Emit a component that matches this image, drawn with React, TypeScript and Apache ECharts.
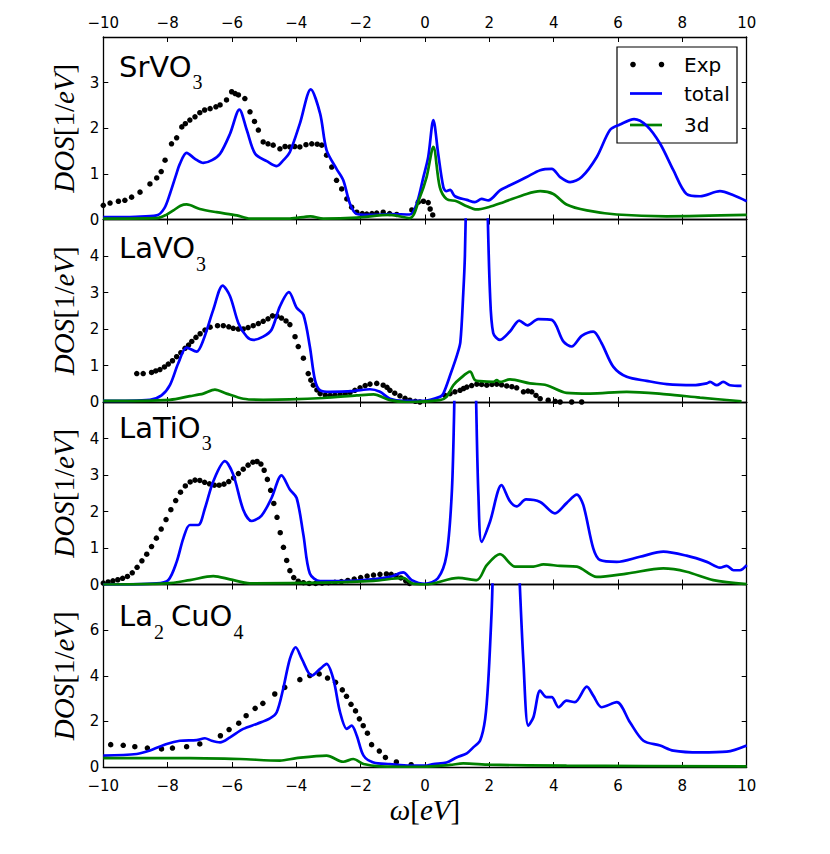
import React, { useEffect, useRef } from 'react';
import * as echarts from 'echarts';

type Pt = [number, number];

// ---------- data ----------
const xTickValues = [-10, -8, -6, -4, -2, 0, 2, 4, 6, 8, 10];
const seriesNames = ['Exp', 'total', '3d'];
const panelTitles = ['{m|SrVO}{s|3}', '{m|LaVO}{s|3}', '{m|LaTiO}{s|3}', '{m|La}{s2|2}{m|CuO}{s|4}'];
const yMaxes = [4, 5, 5, 8];
const yIntervals = [1, 1, 1, 2];

const srvo3Exp: Pt[] = [
  [-10, 0.31], [-9.79, 0.36], [-9.53, 0.4], [-9.33, 0.42], [-9.12, 0.49], [-8.86, 0.6], [-8.55, 0.78],
  [-8.34, 0.91], [-8.2, 1.05], [-8.08, 1.3], [-7.88, 1.66], [-7.72, 1.79], [-7.56, 2.03], [-7.45, 2.1],
  [-7.31, 2.18], [-7.15, 2.25], [-7.0, 2.34], [-6.85, 2.4], [-6.68, 2.43], [-6.5, 2.47], [-6.37, 2.51],
  [-6.17, 2.62], [-6.01, 2.8], [-5.9, 2.76], [-5.8, 2.73], [-5.6, 2.65], [-5.44, 2.36], [-5.3, 2.15],
  [-5.18, 1.96], [-5.03, 1.7], [-4.88, 1.66], [-4.72, 1.63], [-4.51, 1.55], [-4.35, 1.6], [-4.2, 1.59],
  [-4.05, 1.6], [-3.89, 1.59], [-3.7, 1.64], [-3.52, 1.66], [-3.35, 1.65], [-3.21, 1.63], [-3.06, 1.41],
  [-2.9, 1.15], [-2.75, 0.86], [-2.59, 0.67], [-2.43, 0.45], [-2.28, 0.27], [-2.12, 0.16], [-1.95, 0.13],
  [-1.81, 0.12], [-1.65, 0.13], [-1.5, 0.14], [-1.3, 0.16], [-1.1, 0.13], [-0.88, 0.11], [-0.41, 0.21],
  [-0.21, 0.38], [-0.05, 0.4], [0.1, 0.37], [0.16, 0.23], [0.24, 0.1],
];
const srvo3Total: Pt[] = [
  [-10, 0.05], [-9, 0.06], [-8.34, 0.09], [-8.1, 0.25], [-7.93, 0.56], [-7.75, 0.95], [-7.62, 1.22],
  [-7.41, 1.46], [-7.15, 1.33], [-6.89, 1.24], [-6.62, 1.3], [-6.37, 1.44], [-6.06, 1.88], [-5.77, 2.41],
  [-5.54, 1.96], [-5.28, 1.44], [-4.92, 1.28], [-4.61, 1.17], [-4.4, 1.3], [-4.2, 1.48], [-3.89, 2.1],
  [-3.55, 2.85], [-3.26, 2.32], [-3.06, 1.52], [-2.75, 1.11], [-2.54, 0.86], [-2.33, 0.34], [-2.12, 0.12],
  [-1.6, 0.1], [-1.09, 0.12], [-0.47, 0.11], [-0.26, 0.34], [-0.05, 0.93], [0.1, 1.37], [0.26, 2.18],
  [0.41, 1.44], [0.57, 0.71], [0.66, 0.62], [0.78, 0.65], [0.93, 0.51], [1.3, 0.43], [1.55, 0.38],
  [1.76, 0.45], [1.97, 0.42], [2.33, 0.64], [2.64, 0.75], [3.16, 0.93], [3.58, 1.08], [3.94, 1.11],
  [4.2, 0.93], [4.51, 0.82], [4.87, 0.93], [5.34, 1.37], [5.75, 1.96], [6.06, 2.08], [6.5, 2.2],
  [6.9, 2.05], [7.31, 1.66], [7.72, 1.08], [8.13, 0.56], [8.55, 0.51], [9.17, 0.62], [9.59, 0.53], [10, 0.4],
];
const srvo3D: Pt[] = [
  [-10, 0.02], [-8.34, 0.03], [-8.05, 0.1], [-7.82, 0.2], [-7.6, 0.3], [-7.41, 0.33], [-7.0, 0.23],
  [-6.48, 0.16], [-5.85, 0.09], [-5.44, 0.02], [-4.2, 0.02], [-3.56, 0.07], [-3.16, 0.02], [-2.12, 0.04],
  [-1.09, 0.1], [-0.47, 0.03], [-0.16, 0.49], [0.05, 0.93], [0.26, 1.59], [0.46, 0.71], [0.67, 0.45],
  [0.98, 0.4], [1.3, 0.29], [1.6, 0.22], [1.97, 0.27], [2.44, 0.38], [3.16, 0.56], [3.58, 0.62],
  [3.99, 0.56], [4.4, 0.33], [5.03, 0.2], [5.96, 0.11], [7.51, 0.07], [10, 0.1],
];

const lavo3Exp: Pt[] = [
  [-8.96, 0.78], [-8.76, 0.78], [-8.5, 0.81], [-8.37, 0.85], [-8.24, 0.89], [-8.1, 0.96], [-7.98, 1.04],
  [-7.85, 1.13], [-7.72, 1.24], [-7.59, 1.35], [-7.46, 1.47], [-7.35, 1.56], [-7.25, 1.66], [-7.12, 1.77],
  [-6.99, 1.87], [-6.84, 1.97], [-6.68, 2.05], [-6.45, 2.09], [-6.27, 2.09], [-6.1, 2.06], [-5.96, 2.02],
  [-5.8, 2.0], [-5.65, 2.0], [-5.5, 2.04], [-5.34, 2.09], [-5.18, 2.15], [-5.03, 2.21], [-4.88, 2.28],
  [-4.74, 2.36], [-4.6, 2.35], [-4.46, 2.3], [-4.32, 2.22], [-4.2, 2.12], [-4.04, 1.79], [-3.94, 1.52],
  [-3.78, 1.2], [-3.63, 0.78], [-3.55, 0.6], [-3.47, 0.46], [-3.36, 0.33], [-3.26, 0.23], [-3.1, 0.19],
  [-2.95, 0.18], [-2.8, 0.19], [-2.64, 0.2], [-2.48, 0.22], [-2.33, 0.26], [-2.18, 0.32], [-2.02, 0.39],
  [-1.86, 0.45], [-1.71, 0.49], [-1.5, 0.51], [-1.3, 0.46], [-1.18, 0.4], [-1.09, 0.32], [-0.94, 0.24],
  [-0.78, 0.17], [-0.62, 0.1], [-0.47, 0.05], [-0.3, 0.02], [-0.16, 0], [0.62, 0.18], [0.78, 0.23],
  [0.93, 0.28], [1.09, 0.32], [1.2, 0.37], [1.3, 0.41], [1.45, 0.45], [1.61, 0.49], [1.76, 0.48],
  [1.92, 0.46], [2.08, 0.48], [2.23, 0.49], [2.38, 0.47], [2.54, 0.44], [2.7, 0.42], [2.85, 0.39],
  [3.06, 0.28], [3.2, 0.3], [3.32, 0.28], [3.45, 0.18], [3.58, 0.09], [3.83, 0.05], [4.05, 0.02],
  [4.2, 0], [4.56, 0], [4.87, 0],
];
const lavo3Total: Pt[] = [
  [-10, 0.03], [-8.55, 0.06], [-8.19, 0.18], [-7.93, 0.46], [-7.67, 1.06], [-7.41, 1.49], [-7.1, 1.38],
  [-6.89, 1.7], [-6.58, 2.53], [-6.29, 3.19], [-6.06, 2.9], [-5.8, 2.16], [-5.54, 1.79], [-5.34, 1.7],
  [-5.03, 1.79], [-4.77, 1.98], [-4.51, 2.62], [-4.23, 3.01], [-3.99, 2.58], [-3.78, 2.39], [-3.58, 1.52],
  [-3.42, 0.6], [-3.26, 0.32], [-2.95, 0.28], [-2.23, 0.3], [-1.71, 0.35], [-1.4, 0.28], [-1.09, 0.09],
  [-0.68, 0.03], [-0.05, 0.03], [0.46, 0.14], [0.57, 0.23], [0.8, 0.78], [1.0, 1.3], [1.1, 1.65],
  [1.19, 2.99], [1.24, 4.0], [1.3, 6.5], [1.45, 11], [1.65, 12], [1.85, 9], [1.94, 5.5], [2.02, 2.99],
  [2.12, 1.89], [2.33, 1.7], [2.64, 1.93], [2.93, 2.23], [3.19, 2.1], [3.52, 2.27], [3.94, 2.25],
  [4.3, 1.66], [4.56, 1.52], [4.87, 1.81], [5.23, 1.93], [5.49, 1.61], [5.85, 0.97], [6.27, 0.69],
  [6.89, 0.58], [7.51, 0.49], [8.34, 0.46], [8.76, 0.51], [8.86, 0.55], [9.07, 0.46], [9.27, 0.55],
  [9.48, 0.46], [9.84, 0.44],
];
const lavo3D: Pt[] = [
  [-10, 0.03], [-7.93, 0.06], [-7.31, 0.16], [-6.89, 0.23], [-6.53, 0.34], [-6.17, 0.23], [-5.65, 0.09],
  [-5.03, 0.06], [-4.2, 0.07], [-3.16, 0.11], [-2.12, 0.18], [-1.6, 0.21], [-1.09, 0.05], [-0.57, 0],
  [0.46, 0.05], [0.67, 0.14], [0.88, 0.46], [1.09, 0.64], [1.4, 0.83], [1.55, 0.6], [1.71, 0.57],
  [2.12, 0.55], [2.23, 0.6], [2.33, 0.55], [2.64, 0.62], [3.26, 0.51], [3.78, 0.46], [4.4, 0.25],
  [5.13, 0.23], [6.27, 0.28], [7.51, 0.21], [8.55, 0.12], [9.84, 0.02],
];

const latio3Exp: Pt[] = [
  [-10, 0.04], [-9.85, 0.07], [-9.7, 0.1], [-9.55, 0.13], [-9.4, 0.17], [-9.25, 0.22], [-9.1, 0.32],
  [-8.95, 0.47], [-8.8, 0.65], [-8.65, 0.83], [-8.5, 1.04], [-8.35, 1.27], [-8.2, 1.52], [-8.05, 1.78],
  [-7.9, 2.05], [-7.75, 2.3], [-7.6, 2.53], [-7.45, 2.7], [-7.3, 2.81], [-7.15, 2.86], [-7.0, 2.85],
  [-6.85, 2.8], [-6.7, 2.76], [-6.55, 2.72], [-6.4, 2.72], [-6.25, 2.75], [-6.1, 2.82], [-5.95, 2.92],
  [-5.8, 3.04], [-5.65, 3.16], [-5.5, 3.27], [-5.35, 3.35], [-5.22, 3.37], [-5.1, 3.3], [-5.0, 3.13],
  [-4.9, 2.88], [-4.8, 2.58], [-4.7, 2.22], [-4.6, 1.84], [-4.5, 1.42], [-4.4, 1.02], [-4.3, 0.66],
  [-4.2, 0.38], [-4.08, 0.19], [-3.94, 0.09], [-3.78, 0.05], [-3.6, 0.03], [-3.4, 0.03], [-3.2, 0.04],
  [-3.0, 0.05], [-2.8, 0.06], [-2.6, 0.08], [-2.4, 0.11], [-2.2, 0.15], [-2.0, 0.19], [-1.8, 0.23],
  [-1.6, 0.26], [-1.4, 0.28], [-1.2, 0.29], [-1.05, 0.28], [-0.9, 0.24], [-0.75, 0.18], [-0.6, 0.1],
  [-0.48, 0.03],
];
const latio3Total: Pt[] = [
  [-10, 0], [-8.34, 0.03], [-7.98, 0.12], [-7.72, 0.62], [-7.51, 1.27], [-7.31, 1.63], [-7.05, 1.63],
  [-6.84, 2.09], [-6.58, 2.83], [-6.22, 3.38], [-5.96, 3.01], [-5.65, 2.05], [-5.39, 1.74], [-5.08, 1.89],
  [-4.77, 2.37], [-4.46, 2.99], [-4.2, 2.6], [-3.99, 2.37], [-3.78, 1.36], [-3.58, 0.3], [-3.26, 0.09],
  [-2.12, 0.11], [-1.09, 0.21], [-0.68, 0.33], [-0.41, 0.12], [0, 0.02], [0.4, 0.17], [0.67, 0.81],
  [0.83, 2.46], [0.9, 4.5], [1.0, 9], [1.25, 12], [1.5, 9], [1.59, 5.0], [1.66, 2.46], [1.76, 1.17],
  [2.02, 1.72], [2.38, 2.72], [2.64, 2.28], [2.85, 2.14], [3.14, 2.33], [3.58, 2.26], [4.04, 1.95],
  [4.4, 2.23], [4.72, 2.46], [4.92, 2.18], [5.23, 0.99], [5.44, 0.67], [5.96, 0.62], [6.68, 0.76],
  [7.41, 0.9], [8.13, 0.79], [8.76, 0.62], [9.17, 0.46], [9.38, 0.51], [9.59, 0.39], [9.79, 0.39], [10, 0.53],
];
const latio3D: Pt[] = [
  [-10, 0], [-8.03, 0.03], [-7.31, 0.12], [-6.58, 0.23], [-6.06, 0.14], [-5.44, 0.03], [-3.16, 0.05],
  [-1.6, 0.1], [-0.68, 0.18], [-0.41, 0.03], [0, 0], [1.04, 0.18], [1.61, 0.12], [1.92, 0.53],
  [2.33, 0.83], [2.8, 0.49], [3.37, 0.49], [3.68, 0.55], [4.2, 0.51], [4.72, 0.49], [5.34, 0.21],
  [6.27, 0.3], [7.41, 0.44], [8.13, 0.35], [8.96, 0.12], [10, 0.01],
];

const la2cuo4Exp: Pt[] = [
  [-9.77, 0.98], [-9.38, 0.95], [-9.02, 0.89], [-8.63, 0.83], [-8.19, 0.79], [-7.85, 0.83], [-7.41, 0.89],
  [-7.0, 1.01], [-6.36, 1.37], [-6.09, 1.64], [-5.79, 1.92], [-5.56, 2.25], [-5.28, 2.57], [-5.04, 2.79],
  [-4.67, 3.2], [-4.36, 3.49], [-3.89, 3.83], [-3.58, 4.01], [-3.29, 4.08], [-3.03, 3.9], [-2.78, 3.71],
  [-2.57, 3.38], [-2.44, 3.1], [-2.3, 2.75], [-2.16, 2.46], [-2.04, 2.11], [-1.92, 1.81], [-1.79, 1.48],
  [-1.66, 0.98], [-1.42, 0.7], [-1.23, 0.42], [-0.89, 0.22], [-0.43, 0.1],
];
const la2cuo4Total: Pt[] = [
  [-10, 0.5], [-8.96, 0.57], [-8.55, 0.72], [-8.03, 1.01], [-7.62, 1.15], [-7.1, 1.18], [-6.84, 1.26],
  [-6.63, 1.15], [-6.37, 1.08], [-6.06, 1.3], [-5.65, 1.67], [-5.23, 1.89], [-4.82, 2.13], [-4.61, 2.4],
  [-4.41, 3.42], [-4.2, 4.74], [-4.02, 5.25], [-3.83, 4.74], [-3.52, 4.0], [-3.26, 4.3], [-3.06, 4.52],
  [-2.85, 3.86], [-2.64, 2.4], [-2.43, 1.67], [-2.28, 1.81], [-2.12, 1.37], [-1.91, 0.5], [-1.6, 0.2],
  [-1.09, 0.13], [-0.47, 0.06], [0, 0.06], [0.26, 0.13], [0.67, 0.2], [0.98, 0.42], [1.3, 0.6],
  [1.5, 0.86], [1.71, 1.15], [1.87, 2.11], [1.97, 3.86], [2.07, 6.78], [2.2, 11], [2.55, 13], [2.85, 11],
  [2.93, 8.5], [3.06, 4.59], [3.21, 1.81], [3.37, 2.18], [3.58, 3.35], [3.78, 3.06], [3.94, 3.06],
  [4.15, 2.62], [4.4, 2.91], [4.66, 2.84], [5.03, 3.52], [5.23, 3.13], [5.49, 2.62], [5.96, 2.84],
  [6.37, 1.96], [6.79, 1.15], [7.31, 0.94], [7.72, 0.72], [8.55, 0.64], [9.38, 0.67], [10, 0.94],
];
const la2cuo4D: Pt[] = [
  [-10, 0.39], [-7.31, 0.39], [-5.75, 0.35], [-4.51, 0.28], [-4.0, 0.39], [-3.06, 0.5], [-2.54, 0.23],
  [-2.23, 0.35], [-1.91, 0.13], [-1.4, 0.03], [-0.05, 0.01], [0.78, 0.09], [1.19, 0.16], [2.02, 0.1],
  [4.4, 0.06], [10, 0.03],
];

const expData = [srvo3Exp, lavo3Exp, latio3Exp, la2cuo4Exp];
const totalData = [srvo3Total, lavo3Total, latio3Total, la2cuo4Total];
const d3Data = [srvo3D, lavo3D, latio3D, la2cuo4D];

// ---------- layout / style ----------
const GRID_LEFT = 103.3;
const GRID_RIGHT = 83.3;
const GRID_TOP = 37;
const PANEL_H = 182.5;
const TITLE_OFFSETS = [15, 14, 11, 17];
const BLUE = '#0000ff';
const GREEN = '#008000';
const TICK_FONT = 'DejaVu Sans';
const MATH_FONT = 'Liberation Serif';

const fmt = (v: number) => (v < 0 ? '\u2212' + Math.abs(v) : String(v));

const mathRich = {
  i: { fontFamily: MATH_FONT, fontStyle: 'italic', fontWeight: 'normal', fontSize: 29, color: '#000' },
  r: { fontFamily: MATH_FONT, fontWeight: 'normal', fontSize: 29, color: '#000' },
};

function buildOption() {
  const grid: any[] = [];
  const xAxis: any[] = [];
  const yAxis: any[] = [];
  const series: any[] = [];
  const title: any[] = [];
  const axisLine = { show: true, onZero: false, lineStyle: { color: '#000', width: 1.3 } };
  const axisTick = { show: true, inside: true, length: 5, lineStyle: { color: '#000', width: 1 } };
  const labelBase = { color: '#000', fontFamily: TICK_FONT, fontSize: 15, formatter: fmt };

  for (let i = 0; i < 4; i++) {
    const top = GRID_TOP + i * PANEL_H;
    grid.push({ left: GRID_LEFT, right: GRID_RIGHT, top, height: PANEL_H });
    const xCommon = {
      type: 'value', gridIndex: i, min: xTickValues[0], max: xTickValues[xTickValues.length - 1],
      interval: xTickValues[1] - xTickValues[0], axisLine, axisTick, splitLine: { show: false },
    };
    xAxis.push({
      ...xCommon, position: 'bottom',
      axisLabel: { ...labelBase, show: i === 3, margin: 11 },
      name: i === 3 ? '{i|ω}{r|[}{i|eV}{r|]}' : '', nameLocation: 'middle', nameGap: 28,
      nameTextStyle: { rich: mathRich },
    });
    xAxis.push({
      ...xCommon, position: 'top',
      axisLabel: { ...labelBase, show: i === 0, margin: 7 },
    });
    const yCommon = {
      type: 'value', gridIndex: i, min: 0, max: yMaxes[i], interval: yIntervals[i],
      axisLine, axisTick, splitLine: { show: false },
    };
    yAxis.push({
      ...yCommon, position: 'left',
      axisLabel: { ...labelBase, margin: 4, showMaxLabel: false },
      name: '{i|DOS}{r|[1/}{i|eV}{r|]}', nameLocation: 'middle', nameGap: 21,
      nameTextStyle: { rich: mathRich },
    });
    yAxis.push({ ...yCommon, position: 'right', axisLabel: { show: false } });

    series.push({
      type: 'scatter', name: seriesNames[0], xAxisIndex: 2 * i, yAxisIndex: 2 * i,
      data: expData[i], symbol: 'circle', symbolSize: 5.5, itemStyle: { color: '#000', opacity: 1 },
    });
    series.push({
      type: 'line', name: seriesNames[1], xAxisIndex: 2 * i, yAxisIndex: 2 * i,
      data: totalData[i], symbol: 'none', showSymbol: false, smooth: 0.3,
      lineStyle: { color: BLUE, width: 2.7 }, itemStyle: { color: BLUE },
    });
    series.push({
      type: 'line', name: seriesNames[2], xAxisIndex: 2 * i, yAxisIndex: 2 * i,
      data: d3Data[i], symbol: 'none', showSymbol: false, smooth: 0.3,
      lineStyle: { color: GREEN, width: 2.7 }, itemStyle: { color: GREEN },
    });

    title.push({
      text: panelTitles[i], left: 119, top: top + TITLE_OFFSETS[i], padding: 0,
      textStyle: {
        fontWeight: 'normal',
        rich: {
          m: { fontFamily: TICK_FONT, fontWeight: 'normal', fontSize: 29, color: '#000', lineHeight: 40, verticalAlign: 'top' },
          s: { fontFamily: MATH_FONT, fontWeight: 'normal', fontSize: 20, color: '#000', lineHeight: 17, verticalAlign: 'bottom', padding: [28, 0, 0, 1] },
          s2: { fontFamily: MATH_FONT, fontWeight: 'normal', fontSize: 20, color: '#000', lineHeight: 17, verticalAlign: 'bottom', padding: [28, 7, 0, 1] },
        },
      },
    });
  }

  const lx = 617, ly = 47;
  const legendText = (t: string, y: number) => ({
    type: 'text', x: lx + 67, y,
    style: {
      text: t, fill: '#000', font: '20px "DejaVu Sans"',
      verticalAlign: 'middle', textVerticalAlign: 'middle', align: 'left', textAlign: 'left',
    },
  });
  const graphic = [{
    type: 'group', z: 100,
    children: [
      { type: 'rect', shape: { x: lx, y: ly, width: 120, height: 96 }, style: { fill: '#fff', stroke: '#000', lineWidth: 1.2 } },
      { type: 'circle', shape: { cx: lx + 16, cy: ly + 17.5, r: 2.8 }, style: { fill: '#000' } },
      { type: 'circle', shape: { cx: lx + 44.5, cy: ly + 17.5, r: 2.8 }, style: { fill: '#000' } },
      { type: 'line', shape: { x1: lx + 13, y1: ly + 46.5, x2: lx + 45, y2: ly + 46.5 }, style: { stroke: BLUE, lineWidth: 2.7 } },
      { type: 'line', shape: { x1: lx + 13, y1: ly + 78, x2: lx + 45, y2: ly + 78 }, style: { stroke: GREEN, lineWidth: 2.7 } },
      legendText(seriesNames[0], ly + 17.5),
      legendText(seriesNames[1], ly + 46.5),
      legendText(seriesNames[2], ly + 78),
    ],
  }];

  return {
    animation: false,
    backgroundColor: '#fff',
    title, grid, xAxis, yAxis, series, graphic,
  };
}

export default function App() {
  const ref = useRef<HTMLDivElement>(null);
  useEffect(() => {
    if (!ref.current) return;
    const chart = echarts.init(ref.current, undefined, { renderer: 'svg' });
    chart.setOption(buildOption() as any);
    return () => chart.dispose();
  }, []);
  return <div ref={ref} style={{ position: 'fixed', left: 0, top: 0, width: 830, height: 854, background: '#fff' }} />;
}
